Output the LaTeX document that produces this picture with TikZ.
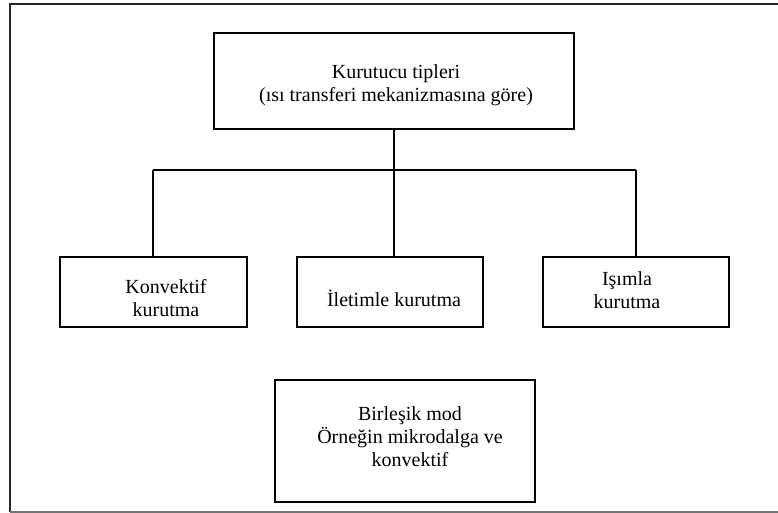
\documentclass[tikz,border=0pt]{standalone}
\usepackage{fontspec}
\setmainfont{Liberation Serif}
\begin{document}
\begin{tikzpicture}[x=1pt,y=-1pt,
  box/.style={draw=black,line width=1.3pt,fill=white},
  lbl/.style={align=center,font=\fontsize{20}{23}\selectfont,inner sep=0pt},
  conn/.style={draw=black,line width=1.3pt}]
\useasboundingbox (0,0) rectangle (778,513);
% frame
\draw[line width=1.5pt,black!85] (778,4) -- (10,4) -- (10,512);
\draw[line width=1.2pt,black!55] (10,512) -- (778,512);
% boxes
\draw[box] (214,33) rectangle (574,129);
\coordinate (topb) at (394,129);
\draw[box] (60,257) rectangle (247,327);
\draw[box] (297,257) rectangle (483,327);
\draw[box] (543,257) rectangle (729,327);
\draw[box] (275,380) rectangle (535,502);
\coordinate (c1) at (153,257);
\coordinate (c2) at (394,257);
\coordinate (c3) at (636,257);
\coordinate (h1) at (153,170);
\coordinate (h2) at (394,170);
\coordinate (h3) at (636,170);
\draw[conn] (topb) -- (h2);
\draw[conn] (h1) -- (h3);
\draw[conn] (h1) -- (c1);
\draw[conn] (h2) -- (c2);
\draw[conn] (h3) -- (c3);
% labels
\node[lbl] (t) at (396,85) {Kurutucu tipleri\\ (ısı transferi mekanizmasına göre)};
\node[lbl] (a) at (166,298) {Konvektif\\kurutma};
\node[lbl] (b) at (394,298) {İletimle kurutma};
\node[lbl] (c) at (627,290) {Işımla\\kurutma};
\node[lbl] (d) at (410,437) {Birleşik mod\\ Örneğin mikrodalga ve\\konvektif};
\end{tikzpicture}
\end{document}
